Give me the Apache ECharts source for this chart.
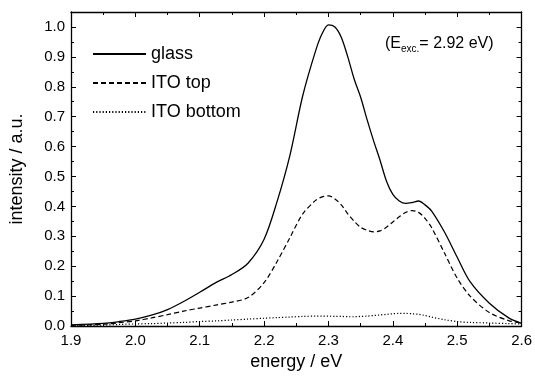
<!DOCTYPE html>
<html>
<head>
<meta charset="utf-8">
<script src="https://cdn.jsdelivr.net/npm/echarts@6/dist/echarts.min.js"></script>
<style>html,body{margin:0;padding:0;background:#fff}#c{width:535px;height:381px}</style>
</head>
<body>
<div id="c"></div>
<script>
const energy = [1.90,1.95,1.975,2.00,2.025,2.05,2.075,2.10,2.125,2.15,2.175,2.20,2.22,2.24,2.26,2.28,2.29,2.30,2.31,2.32,2.33,2.34,2.35,2.36,2.37,2.38,2.39,2.40,2.41,2.42,2.43,2.44,2.45,2.46,2.48,2.50,2.52,2.55,2.58,2.60];
const glass = [0.004,0.009,0.015,0.023,0.036,0.055,0.082,0.113,0.145,0.172,0.21,0.29,0.415,0.57,0.77,0.92,0.977,1.007,1.0,0.965,0.90,0.825,0.765,0.69,0.62,0.555,0.485,0.44,0.418,0.41,0.413,0.418,0.405,0.385,0.315,0.23,0.148,0.076,0.027,0.009];
const itoTop = [0.002,0.006,0.011,0.017,0.027,0.038,0.050,0.060,0.070,0.080,0.095,0.145,0.215,0.295,0.375,0.42,0.432,0.435,0.425,0.405,0.375,0.35,0.33,0.32,0.315,0.318,0.33,0.348,0.365,0.38,0.386,0.38,0.36,0.33,0.245,0.16,0.10,0.045,0.018,0.01];
const itoBottom = [0.001,0.003,0.005,0.007,0.008,0.010,0.012,0.015,0.017,0.020,0.023,0.026,0.028,0.030,0.032,0.033,0.033,0.033,0.032,0.032,0.031,0.031,0.032,0.033,0.035,0.037,0.039,0.041,0.042,0.042,0.041,0.039,0.035,0.030,0.021,0.015,0.012,0.010,0.008,0.007];
const seriesNames = ['glass','ITO top','ITO bottom'];
const xTicks = ['1.9','2.0','2.1','2.2','2.3','2.4','2.5','2.6'];

const pair = arr => energy.map((e,i)=>[e,arr[i]]);
const font = '"Liberation Sans", Arial, sans-serif';
const chart = echarts.init(document.getElementById('c'), null, {renderer:'canvas'});
const axisCommon = {
  axisLine:{show:true,onZero:false,lineStyle:{color:'#000',width:1.3}},
  axisTick:{show:true,inside:true,length:5,lineStyle:{color:'#000',width:1}},
  minorTick:{show:true,splitNumber:2,length:3,lineStyle:{color:'#000',width:1}},
  splitLine:{show:false}
};
chart.setOption({
  animation:false,
  grid:{left:71,right:11,top:12,bottom:55},
  legend:{
    orient:'vertical',left:92,top:45,padding:0,itemWidth:53,itemHeight:14,itemGap:11,
    data:seriesNames,
    itemStyle:{color:'rgba(0,0,0,0)',borderWidth:0,opacity:0},
    textStyle:{fontFamily:font,fontSize:18,lineHeight:18,color:'#000'}
  },
  xAxis:[
    Object.assign({type:'value',min:1.9,max:2.6,interval:0.1,position:'bottom',
      name:'energy / eV',nameLocation:'middle',nameGap:27,
      nameTextStyle:{fontFamily:font,fontSize:18,color:'#000'},
      axisLabel:{fontFamily:font,fontSize:15,color:'#000',margin:7,
        formatter:v=>{const s=v.toFixed(1);return xTicks.includes(s)?s:'';}}},axisCommon),
    Object.assign({type:'value',min:1.9,max:2.6,interval:0.1,position:'top',axisLabel:{show:false}},axisCommon)
  ],
  yAxis:[
    Object.assign({type:'value',min:0,max:1.05,interval:0.1,position:'left',
      name:'intensity / a.u.',nameLocation:'middle',nameGap:45,
      nameTextStyle:{fontFamily:font,fontSize:18,color:'#000'},
      axisLabel:{fontFamily:font,fontSize:15,color:'#000',margin:6,showMaxLabel:false,
        formatter:v=>v>1.01?'':v.toFixed(1)}},axisCommon),
    Object.assign({type:'value',min:0,max:1.05,interval:0.1,position:'right',axisLabel:{show:false}},axisCommon)
  ],
  series:[
    {name:seriesNames[0],type:'line',data:pair(glass),smooth:0.3,symbol:'none',
      lineStyle:{color:'#000',width:1.3,type:'solid'},itemStyle:{color:'#000'}},
    {name:seriesNames[1],type:'line',data:pair(itoTop),smooth:0.3,symbol:'none',
      lineStyle:{color:'#000',width:1.2,type:[5,3]},itemStyle:{color:'#000'}},
    {name:seriesNames[2],type:'line',data:pair(itoBottom),smooth:0.3,symbol:'none',
      lineStyle:{color:'#000',width:1.2,type:[1.2,2]},itemStyle:{color:'#000'}}
  ],
  graphic:[{
    type:'text',left:385,top:36,
    style:{
      text:'(E{s|exc.}= 2.92 eV)',
      rich:{s:{fontSize:10,fontFamily:font,fill:'#000',padding:[11,0,0,0]}},
      font:'16px '+font,fill:'#000'
    }
  }]
});
</script>
</body>
</html>
